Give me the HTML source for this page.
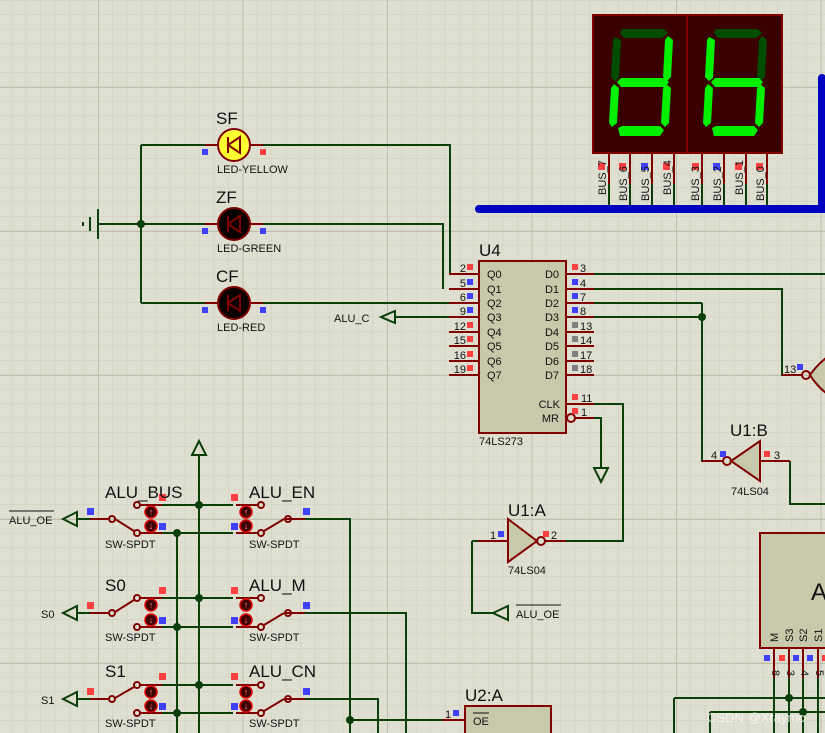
<!DOCTYPE html>
<html><head><meta charset="utf-8"><style>
html,body{margin:0;padding:0;background:#dfdfd1;}
svg{display:block;font-family:"Liberation Sans",sans-serif;}
</style></head><body>
<svg width="825" height="733" viewBox="0 0 825 733" xmlns="http://www.w3.org/2000/svg">
<defs>
<pattern id="g1" patternUnits="userSpaceOnUse" x="11.3" y="0" width="14.45" height="14.4">
<path d="M0 0V14.4M0 0H14.45" stroke="#cdcdbc" stroke-width="1" fill="none"/></pattern>
<pattern id="g2" patternUnits="userSpaceOnUse" x="98" y="87" width="144.5" height="144" >
<path d="M0 0V144M0 0H144.5" stroke="#bfbfae" stroke-width="2" fill="none"/></pattern>
</defs>
<rect width="825" height="733" fill="#dfdfd1"/>
<rect width="825" height="733" fill="url(#g1)"/>
<rect width="825" height="733" fill="url(#g2)"/>

<g stroke="#0a3f0a" stroke-width="2" fill="none">
<path d="M141 145V303M141 145H207M141 224H207M141 303H207M98 224H141"/>
<path d="M263 145H450V274M263 224H443V289M263 303H449"/>
<path d="M395 317H449"/>
<path d="M594 274H825M594 289H782V375H790M594 303H702M594 317H702M702 303V461H712"/>
<path d="M790 461V504H825"/>
<path d="M594 404H623V541H566M594 418H601V468"/>
<path d="M472 541H478M472 541V613H493"/>
<path d="M199 455V733M177 533V733"/>
<path d="M162 505H233M162 533H233M162 598H233M162 627H233M162 685H233M162 713H233"/>
<path d="M305 519H350V733M305 613H406V733M305 699H378V733M350 720H442"/>
<path d="M77 519H90M77 613H90M77 699H90"/>
<path d="M609 184V208M630 184V208M652 184V208M674 184V208M702 184V208M724 184V208M746 184V208M767 184V208"/>
<path d="M774 678V733M789 678V733M803 678V733M818 678V733M674 698H825M674 698V733M710 712H825M710 712V733"/>
</g>
<g fill="#0a3f0a">
<circle cx="141" cy="224" r="4"/><circle cx="702" cy="317" r="4"/>
<circle cx="199" cy="505" r="4"/><circle cx="177" cy="533" r="4"/>
<circle cx="199" cy="598" r="4"/><circle cx="177" cy="627" r="4"/>
<circle cx="199" cy="685" r="4"/><circle cx="177" cy="713" r="4"/>
<circle cx="350" cy="720" r="4"/><circle cx="789" cy="698" r="4"/><circle cx="803" cy="712" r="4"/>
</g>
<g stroke="#0a3f0a" stroke-width="2"><path d="M83 222V226M90 217V231M98 209V239"/></g>
<g stroke="#0a3f0a" stroke-width="2" fill="none">
<path d="M381 317L395 311V323Z"/>
<path d="M493 613L508 606V620Z"/>
<path d="M63 519L77 512V526Z"/><path d="M63 613L77 606V620Z"/><path d="M63 699L77 692V706Z"/>
<path d="M199 441L192 455H206Z"/>
<path d="M594 468H608L601 482Z"/>
</g>
<path d="M479 209H822V78" stroke="#0000c0" stroke-width="8" fill="none" stroke-linecap="round"/>

<g stroke="#800000" stroke-width="2">
<path d="M205 145H263M205 224H263M205 303H263"/>
<circle cx="234" cy="145" r="16" fill="#ffff30"/>
<circle cx="234" cy="224" r="16" fill="#0a0000"/>
<circle cx="234" cy="303" r="16" fill="#0a0000"/>
<path d="M228 145L240 137V153ZM228 137V153" fill="none"/>
<path d="M228 224L240 216V232ZM228 216V232" fill="none"/>
<path d="M228 303L240 295V311ZM228 295V311" fill="none"/>
</g>
<g font-size="11" fill="#111">
<text x="217" y="173">LED-YELLOW</text><text x="217" y="252">LED-GREEN</text><text x="217" y="331">LED-RED</text>
</g>
<g font-size="17" fill="#111">
<text x="216" y="124">SF</text><text x="216" y="203">ZF</text><text x="216" y="282">CF</text>
</g>
<g>
<rect x="202" y="149" width="6" height="6" fill="#4040ff"/><rect x="260" y="149" width="6" height="6" fill="#ff4040"/>
<rect x="202" y="228" width="6" height="6" fill="#4040ff"/><rect x="260" y="228" width="6" height="6" fill="#4040ff"/>
<rect x="202" y="307" width="6" height="6" fill="#4040ff"/><rect x="260" y="307" width="6" height="6" fill="#4040ff"/>
</g>
<text x="334" y="322" font-size="11" fill="#111">ALU_C</text>

<g stroke="#800000" stroke-width="2" fill="none">
<path d="M449 274H479M449 289H479M449 303H479M449 317H479M449 332H479M449 346H479M449 361H479M449 375H479"/>
<path d="M566 274H594M566 289H594M566 303H594M566 317H594M566 332H594M566 346H594M566 361H594M566 375H594"/>
<path d="M566 404H594M575 418H594M566 400L562 404L566 408"/>
<circle cx="571" cy="418" r="4"/>
</g>
<rect x="479" y="261" width="87" height="172" fill="#c8c8ab" stroke="#800000" stroke-width="2"/>
<text x="479" y="256" font-size="17" fill="#111">U4</text>
<text x="479" y="445" font-size="11" fill="#111">74LS273</text>
<g font-size="11" fill="#111">
<text x="487" y="278">Q0</text><text x="487" y="293">Q1</text><text x="487" y="307">Q2</text><text x="487" y="321">Q3</text>
<text x="487" y="336">Q4</text><text x="487" y="350">Q5</text><text x="487" y="365">Q6</text><text x="487" y="379">Q7</text>
<g text-anchor="end">
<text x="559" y="278">D0</text><text x="559" y="293">D1</text><text x="559" y="307">D2</text><text x="559" y="321">D3</text>
<text x="559" y="336">D4</text><text x="559" y="350">D5</text><text x="559" y="365">D6</text><text x="559" y="379">D7</text>
<text x="560" y="408">CLK</text><text x="559" y="422">MR</text>
<text x="466" y="272">2</text><text x="466" y="287">5</text><text x="466" y="301">6</text><text x="466" y="315">9</text>
<text x="466" y="330">12</text><text x="466" y="344">15</text><text x="466" y="359">16</text><text x="466" y="373">19</text>
</g>
<text x="580" y="272">3</text><text x="580" y="287">4</text><text x="580" y="301">7</text><text x="580" y="315">8</text>
<text x="580" y="330">13</text><text x="580" y="344">14</text><text x="580" y="359">17</text><text x="580" y="373">18</text>
<text x="581" y="402">11</text><text x="581" y="416">1</text>
</g>
<g>
<rect x="467" y="264" width="6" height="6" fill="#ff4040"/><rect x="467" y="279" width="6" height="6" fill="#4040ff"/>
<rect x="467" y="293" width="6" height="6" fill="#4040ff"/><rect x="467" y="307" width="6" height="6" fill="#4040ff"/>
<rect x="467" y="322" width="6" height="6" fill="#ff4040"/><rect x="467" y="336" width="6" height="6" fill="#ff4040"/>
<rect x="467" y="351" width="6" height="6" fill="#ff4040"/><rect x="467" y="365" width="6" height="6" fill="#ff4040"/>
<rect x="572" y="264" width="6" height="6" fill="#ff4040"/><rect x="572" y="279" width="6" height="6" fill="#4040ff"/>
<rect x="572" y="293" width="6" height="6" fill="#4040ff"/><rect x="572" y="307" width="6" height="6" fill="#4040ff"/>
<rect x="572" y="322" width="6" height="6" fill="#808080"/><rect x="572" y="336" width="6" height="6" fill="#808080"/>
<rect x="572" y="351" width="6" height="6" fill="#808080"/><rect x="572" y="365" width="6" height="6" fill="#808080"/>
<rect x="572" y="394" width="6" height="6" fill="#ff4040"/><rect x="572" y="408" width="6" height="6" fill="#ff4040"/>
</g>

<g stroke="#800000" stroke-width="2">
<path d="M782 375H802"/><circle cx="806" cy="375" r="4" fill="none"/>
<path d="M810 375Q816 366 826 358V393Q816 385 810 375Z" fill="#c8c8ab"/>
</g>
<text x="784" y="373" font-size="11" fill="#111">13</text><rect x="797" y="364" width="6" height="6" fill="#4040ff"/>

<g stroke="#800000" stroke-width="2">
<path d="M702 461H723M760 461H790"/><circle cx="727" cy="461" r="4" fill="none"/>
<path d="M760 441V481L731 461Z" fill="#c8c8ab"/>
</g>
<text x="730" y="436" font-size="17" fill="#111">U1:B</text>
<text x="731" y="495" font-size="11" fill="#111">74LS04</text>
<text x="711" y="459" font-size="11" fill="#111">4</text><rect x="720" y="451" width="6" height="6" fill="#4040ff"/>
<text x="774" y="459" font-size="11" fill="#111">3</text><rect x="764" y="451" width="6" height="6" fill="#ff4040"/>

<g stroke="#800000" stroke-width="2">
<path d="M478 541H508M545 541H566"/><circle cx="541" cy="541" r="4" fill="none"/>
<path d="M508 519V562L537 541Z" fill="#c8c8ab"/>
</g>
<text x="508" y="516" font-size="17" fill="#111">U1:A</text>
<text x="508" y="574" font-size="11" fill="#111">74LS04</text>
<text x="490" y="539" font-size="11" fill="#111">1</text><rect x="498" y="531" width="6" height="6" fill="#4040ff"/>
<text x="551" y="539" font-size="11" fill="#111">2</text><rect x="543" y="531" width="6" height="6" fill="#ff4040"/>
<text x="516" y="618" font-size="11" fill="#111">ALU_OE</text><path d="M516 605H561" stroke="#111" stroke-width="1"/>

<rect x="465" y="706" width="86" height="40" fill="#c8c8ab" stroke="#800000" stroke-width="2"/>
<path d="M442 720H465" stroke="#800000" stroke-width="2"/>
<text x="465" y="701" font-size="17" fill="#111">U2:A</text>
<text x="445" y="718" font-size="11" fill="#111">1</text><rect x="453" y="710" width="6" height="6" fill="#4040ff"/>
<text x="473" y="725" font-size="11" fill="#111">OE</text><path d="M473 713H489" stroke="#111" stroke-width="1"/>

<rect x="760" y="533" width="70" height="115" fill="#c8c8ab" stroke="#800000" stroke-width="2"/>
<text x="811" y="600" font-size="24" fill="#111">A</text>
<g stroke="#800000" stroke-width="2"><path d="M774 648V678M789 648V678M803 648V678M818 648V678"/></g>
<g font-size="11" fill="#111">
<text transform="translate(778,642) rotate(-90)">M</text><text transform="translate(793,642) rotate(-90)">S3</text>
<text transform="translate(807,642) rotate(-90)">S2</text><text transform="translate(822,642) rotate(-90)">S1</text>
<text transform="translate(772,670) rotate(90)">8</text><text transform="translate(787,670) rotate(90)">3</text>
<text transform="translate(801,670) rotate(90)">4</text><text transform="translate(816,670) rotate(90)">5</text>
</g>
<rect x="764" y="655" width="6" height="6" fill="#4040ff"/><rect x="779" y="655" width="6" height="6" fill="#ff4040"/>
<rect x="793" y="655" width="6" height="6" fill="#4040ff"/><rect x="807" y="655" width="6" height="6" fill="#4040ff"/>
<rect x="822" y="655" width="6" height="6" fill="#ff4040"/>
<text x="707" y="722" font-size="13" fill="#ffffff" opacity="0.7">CSDN @Xraymc</text>

<g stroke="#800000" stroke-width="2" fill="none">
<path d="M90 519H108M140 505H162M140 533H162M115 519L134 531"/>
<circle cx="112" cy="519" r="3"/><circle cx="137" cy="505" r="3"/><circle cx="137" cy="533" r="3"/>
<path d="M286 519H305M236 505H258M236 533H258M284 519L264 531"/>
<circle cx="288" cy="519" r="3"/><circle cx="261" cy="505" r="3"/><circle cx="261" cy="533" r="3"/>
<path d="M90 613H108M140 598H162M140 627H162M115 612L134 600"/>
<circle cx="112" cy="613" r="3"/><circle cx="137" cy="598" r="3"/><circle cx="137" cy="627" r="3"/>
<path d="M286 613H305M236 598H258M236 627H258M284 613L264 625"/>
<circle cx="288" cy="613" r="3"/><circle cx="261" cy="598" r="3"/><circle cx="261" cy="627" r="3"/>
<path d="M90 699H108M140 685H162M140 713H162M115 698L134 687"/>
<circle cx="112" cy="699" r="3"/><circle cx="137" cy="685" r="3"/><circle cx="137" cy="713" r="3"/>
<path d="M286 699H305M236 685H258M236 713H258M284 699L264 711"/>
<circle cx="288" cy="699" r="3"/><circle cx="261" cy="685" r="3"/><circle cx="261" cy="713" r="3"/>
</g>
<g stroke="#e00000" stroke-width="1.5" fill="#400000">
<circle cx="151" cy="512" r="6"/><circle cx="151" cy="526" r="6"/><circle cx="246" cy="512" r="6"/><circle cx="246" cy="526" r="6"/>
<circle cx="151" cy="605" r="6"/><circle cx="151" cy="620" r="6"/><circle cx="246" cy="605" r="6"/><circle cx="246" cy="620" r="6"/>
<circle cx="151" cy="692" r="6"/><circle cx="151" cy="706" r="6"/><circle cx="246" cy="692" r="6"/><circle cx="246" cy="706" r="6"/>
</g>
<g font-size="9" fill="#ff9090" text-anchor="middle">
<text x="151" y="515">↑</text><text x="151" y="529">↓</text><text x="246" y="515">↑</text><text x="246" y="529">↓</text>
<text x="151" y="608">↑</text><text x="151" y="623">↓</text><text x="246" y="608">↑</text><text x="246" y="623">↓</text>
<text x="151" y="695">↑</text><text x="151" y="709">↓</text><text x="246" y="695">↑</text><text x="246" y="709">↓</text>
</g>
<g>
<rect x="159" y="494" width="7" height="7" fill="#ff4040"/><rect x="159" y="523" width="7" height="7" fill="#4040ff"/>
<rect x="231" y="494" width="7" height="7" fill="#ff4040"/><rect x="231" y="523" width="7" height="7" fill="#4040ff"/>
<rect x="87" y="508" width="7" height="7" fill="#4040ff"/><rect x="303" y="508" width="7" height="7" fill="#4040ff"/>
<rect x="159" y="587" width="7" height="7" fill="#ff4040"/><rect x="159" y="617" width="7" height="7" fill="#4040ff"/>
<rect x="231" y="587" width="7" height="7" fill="#ff4040"/><rect x="231" y="617" width="7" height="7" fill="#4040ff"/>
<rect x="87" y="602" width="7" height="7" fill="#ff4040"/><rect x="303" y="602" width="7" height="7" fill="#4040ff"/>
<rect x="159" y="673" width="7" height="7" fill="#ff4040"/><rect x="159" y="703" width="7" height="7" fill="#4040ff"/>
<rect x="231" y="673" width="7" height="7" fill="#ff4040"/><rect x="231" y="703" width="7" height="7" fill="#4040ff"/>
<rect x="87" y="688" width="7" height="7" fill="#ff4040"/><rect x="303" y="688" width="7" height="7" fill="#4040ff"/>
</g>
<g font-size="17" fill="#111">
<text x="105" y="498">ALU_BUS</text><text x="249" y="498">ALU_EN</text>
<text x="105" y="591">S0</text><text x="249" y="591">ALU_M</text>
<text x="105" y="677">S1</text><text x="249" y="677">ALU_CN</text>
</g>
<g font-size="11" fill="#111">
<text x="105" y="548">SW-SPDT</text><text x="249" y="548">SW-SPDT</text>
<text x="105" y="641">SW-SPDT</text><text x="249" y="641">SW-SPDT</text>
<text x="105" y="727">SW-SPDT</text><text x="249" y="727">SW-SPDT</text>
<text x="9" y="524">ALU_OE</text><text x="41" y="618">S0</text><text x="41" y="704">S1</text>
</g>
<path d="M9 511H54" stroke="#111" stroke-width="1"/>

<!-- 7seg -->
<rect x="593" y="15" width="189" height="138" fill="#3a0000" stroke="#800000" stroke-width="2"/>
<path d="M687 15V153" stroke="#800000" stroke-width="2"/>
<g>
<polygon points="622,29 664,29 668,33 662,38 624,38 620,33" fill="#004c00"/>
<polygon points="615,37 621,40 619,78 615,81 611,77 613,40" fill="#004c00"/>
<polygon points="668,36 673,40 671,77 667,81 663,77 665,40" fill="#00f000"/>
<polygon points="617,82 621,78 665,78 669,82 665,87 621,87" fill="#00f000"/>
<polygon points="614,84 619,88 617,123 612,127 609,123 611,88" fill="#00f000"/>
<polygon points="666,84 671,88 669,123 665,127 661,123 663,88" fill="#00f000"/>
<polygon points="618,128 622,126 660,126 664,130 660,136 620,136" fill="#00f000"/>
</g>
<g transform="translate(94,0)">
<polygon points="622,29 664,29 668,33 662,38 624,38 620,33" fill="#004c00"/>
<polygon points="615,37 621,40 619,78 615,81 611,77 613,40" fill="#00f000"/>
<polygon points="668,36 673,40 671,77 667,81 663,77 665,40" fill="#004c00"/>
<polygon points="617,82 621,78 665,78 669,82 665,87 621,87" fill="#00f000"/>
<polygon points="614,84 619,88 617,123 612,127 609,123 611,88" fill="#00f000"/>
<polygon points="666,84 671,88 669,123 665,127 661,123 663,88" fill="#00f000"/>
<polygon points="618,128 622,126 660,126 664,130 660,136 620,136" fill="#00f000"/>
</g>
<g stroke="#800000" stroke-width="2"><path d="M609 153V184M630 153V184M652 153V184M674 153V184M702 153V184M724 153V184M746 153V184M767 153V184"/></g>
<g>
<rect x="598" y="163" width="7" height="7" fill="#ff4040"/><rect x="619" y="163" width="7" height="7" fill="#ff4040"/>
<rect x="641" y="163" width="7" height="7" fill="#4040ff"/><rect x="663" y="163" width="7" height="7" fill="#ff4040"/>
<rect x="692" y="163" width="7" height="7" fill="#ff4040"/><rect x="713" y="163" width="7" height="7" fill="#4040ff"/>
<rect x="735" y="163" width="7" height="7" fill="#ff4040"/><rect x="756" y="163" width="7" height="7" fill="#ff4040"/>
</g>
<g font-size="11" fill="#111">
<text transform="translate(606,195) rotate(-90)">BUS_7</text><text transform="translate(627,201) rotate(-90)">BUS_6</text>
<text transform="translate(649,201) rotate(-90)">BUS_5</text><text transform="translate(671,195) rotate(-90)">BUS_4</text>
<text transform="translate(699,201) rotate(-90)">BUS_3</text><text transform="translate(721,201) rotate(-90)">BUS_2</text>
<text transform="translate(743,195) rotate(-90)">BUS_1</text><text transform="translate(764,201) rotate(-90)">BUS_0</text>
</g>
</svg>
</body></html>
